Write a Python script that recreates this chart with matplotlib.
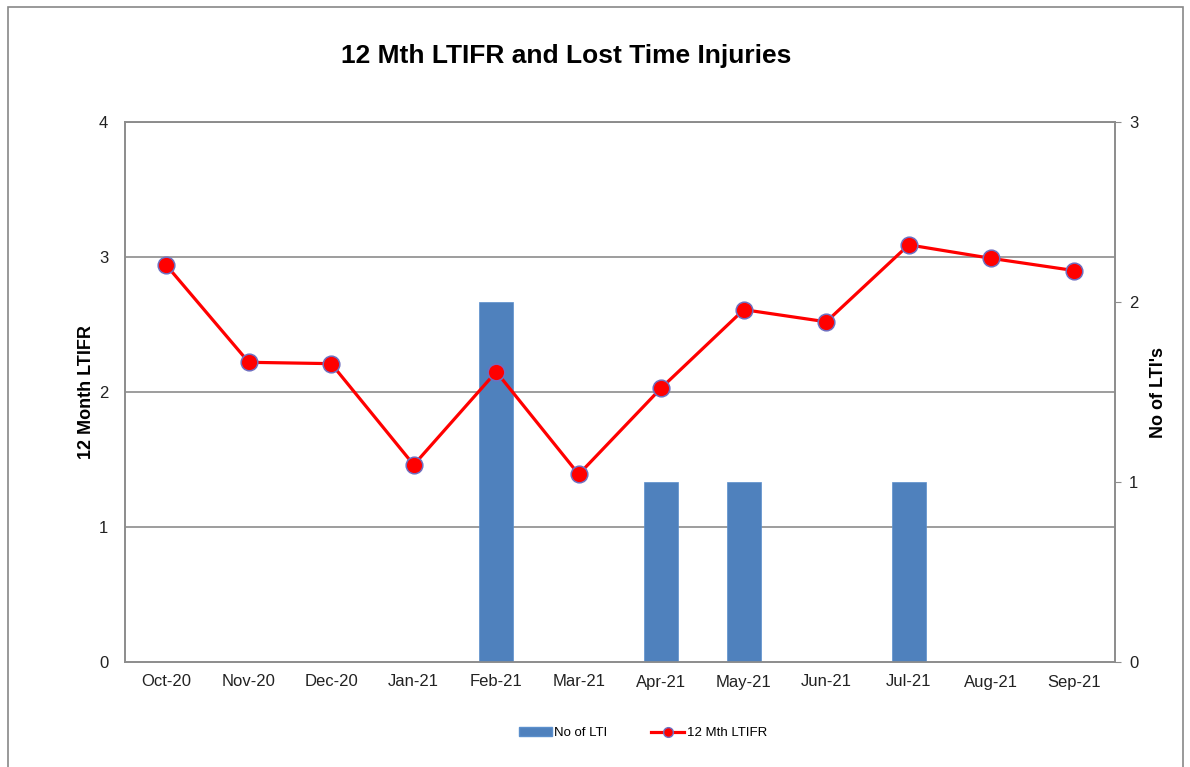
import matplotlib
matplotlib.use("Agg")
import matplotlib.pyplot as plt
from matplotlib.patches import Rectangle
from matplotlib.lines import Line2D
import numpy as np

months = ["Oct-20", "Nov-20", "Dec-20", "Jan-21", "Feb-21", "Mar-21",
          "Apr-21", "May-21", "Jun-21", "Jul-21", "Aug-21", "Sep-21"]
no_of_lti = [0, 0, 0, 0, 2, 0, 1, 1, 0, 1, 0, 0]
ltifr_12m = [2.94, 2.22, 2.21, 1.46, 2.15, 1.39, 2.03, 2.61, 2.52, 3.09, 2.99, 2.90]
left_ticks = [0, 1, 2, 3, 4]
right_ticks = [0, 1, 2, 3]

plt.rcParams['font.family'] = ['Liberation Sans', 'DejaVu Sans']

W, H = 1190, 767
fig = plt.figure(figsize=(W / 100, H / 100), dpi=100)

# figure border
fig.patches.append(Rectangle((8 / W, -0.01), (1183 - 8) / W, (H - 7) / H + 0.01,
                             transform=fig.transFigure, fill=False,
                             edgecolor="#888888", linewidth=1.2))

ax = fig.add_axes([125 / W, (H - 662) / H, (1115 - 125) / W, 540 / H])
ax2 = ax.twinx()

x = np.arange(len(months))

# bars on secondary axis
ax2.bar(x, no_of_lti, width=0.41, color="#4F81BD", edgecolor="#5B8FCC",
        linewidth=0.5, zorder=2, label="No of LTI")
ax2.set_ylim(0, 3)
ax2.set_yticks(right_ticks)

# gridlines on primary axis
ax.set_ylim(0, 4)
ax.set_yticks(left_ticks)
ax.set_xlim(-0.5, len(months) - 0.5)
ax.set_xticks(x)
ax.set_xticklabels(months)
for v in left_ticks[1:]:
    ax.axhline(v, color="#8C8C8C", linewidth=1.2, zorder=0)

# line above bars on an overlay axes sharing the primary scale
ax3 = ax.twinx()
ax3.set_ylim(0, 4)
ax3.set_xlim(-0.5, len(months) - 0.5)
ax3.axis("off")
ax3.plot(x, ltifr_12m, color="#FF0000", linewidth=2.3, marker="o",
         markersize=12, markerfacecolor="#FF0000", markeredgecolor="#6F6FC0",
         markeredgewidth=1.1, zorder=3)

for a in (ax, ax2):
    for s in a.spines.values():
        s.set_color("#8C8C8C")
        s.set_linewidth(1.2)

ax.tick_params(axis="y", length=0, pad=12, labelsize=12, colors="#222222")
ax.tick_params(axis="x", length=0, pad=9, labelsize=12, colors="#222222")
ax2.tick_params(axis="y", length=4, direction="out", color="#8C8C8C",
                pad=6, labelsize=12, labelcolor="#222222")

ax.set_ylabel("12 Month LTIFR", fontsize=13, fontweight="bold")
ax.yaxis.set_label_coords(-0.030, 0.5)
ax2.set_ylabel("No of LTI's", fontsize=13, fontweight="bold")
ax2.yaxis.set_label_coords(1.035, 0.5)

fig.text(566 / W, 1 - 56 / H, "12 Mth LTIFR and Lost Time Injuries",
         ha="center", va="center", fontsize=19, fontweight="bold")

handles = [Rectangle((0, 0), 1, 1, facecolor="#4F81BD", edgecolor="#5B8FCC"),
           Line2D([0], [0], color="#FF0000", linewidth=2.3, marker="o",
                  markersize=7, markerfacecolor="#FF0000",
                  markeredgecolor="#6F6FC0")]
fig.legend(handles, ["No of LTI", "12 Mth LTIFR"], loc="center",
           bbox_to_anchor=(643 / W, 1 - 733 / H), ncol=2, frameon=False,
           fontsize=9.5, handlelength=2.5, handletextpad=0.2, columnspacing=3.3)

fig.savefig("out.png", dpi=100)
